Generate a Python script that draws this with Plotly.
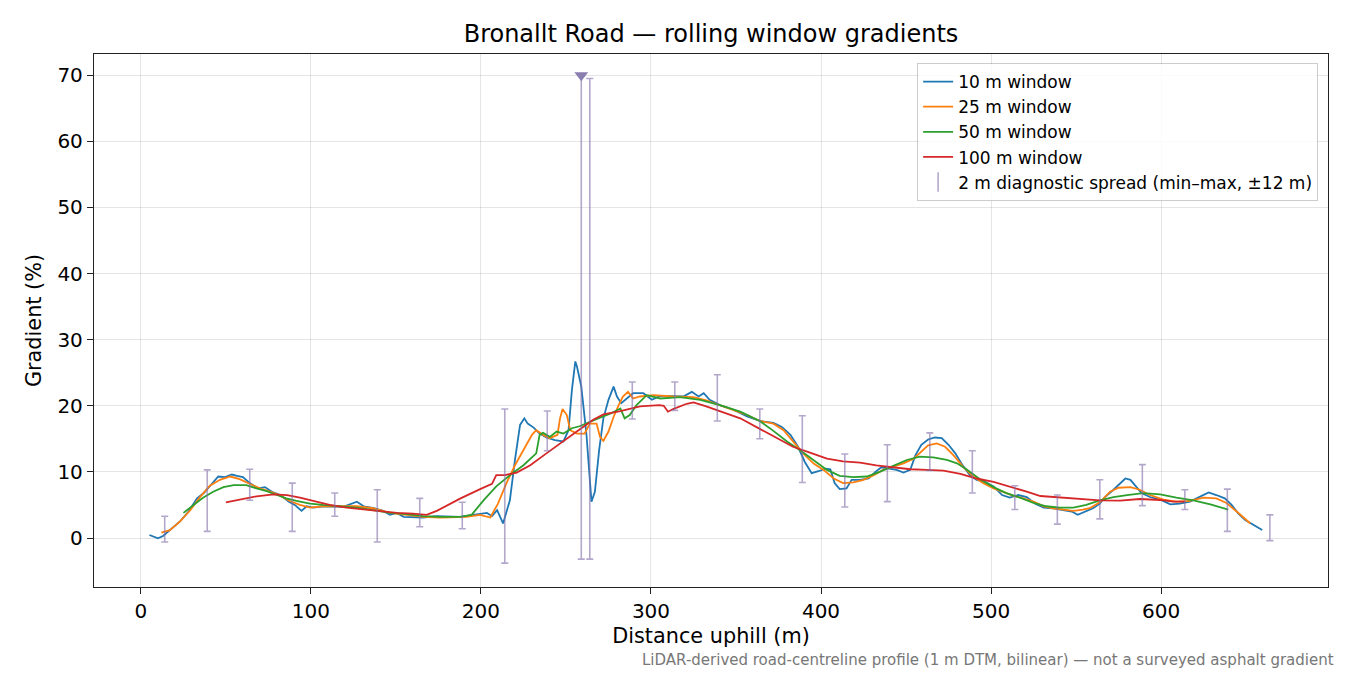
import plotly.graph_objects as go

# --- rolling window gradients ---
x10 = [5, 10, 13, 17, 23, 28, 33, 37, 41, 45.5,
       49.5, 53.5, 56.5, 60, 64, 69, 73, 77, 82, 87,
       90.5, 94.5, 97.5, 101.5, 107, 113, 119, 127, 131, 137,
       142.5, 146.5, 150.5, 154.5, 160, 166, 174, 182, 188, 195.5,
       203.5, 206.5, 209.5, 213, 217, 220, 223, 225.5, 227.5, 231,
       234.5, 238.5, 243.5, 248.5, 251.5, 253.5, 255.5, 256.5, 259, 262,
       264, 265, 267, 269.5, 272, 275, 278, 280, 282.5, 285.5,
       289.5, 295.5, 300.5, 305.5, 313, 319, 324, 328, 331, 334.5,
       340.5, 348.5, 356.5, 364, 372, 377, 382, 386.5, 390.5, 394.5,
       398.5, 402.5, 405.5, 408, 411, 415, 418, 423, 428, 432,
       435.5, 440.5, 444.5, 448.5, 452.5, 455.5, 459, 463, 467, 471,
       475, 479, 482.5, 487.5, 491.5, 496.5, 501.5, 506.5, 511, 516,
       521, 526, 531, 536.5, 542.5, 547.5, 551, 556, 560, 564,
       567, 572, 576, 579, 582, 584.5, 588.5, 593.5, 599.5, 605.5,
       611, 617, 623, 628, 632.5, 637.5, 641.5, 645.5, 649.5, 653.5,
       657.5, 659.5]
g10 = [0.45, -0.05, 0.3, 1.2, 2.5, 4.0, 6.0, 6.8, 8.0, 9.3,
       9.2, 9.6, 9.4, 9.2, 8.3, 7.5, 7.7, 7.0, 6.5, 5.5,
       5.0, 4.1, 4.8, 4.6, 4.8, 4.8, 4.7, 5.5, 4.8, 4.5,
       4.1, 3.5, 3.8, 3.2, 3.2, 3.1, 3.3, 3.2, 3.2, 3.5,
       3.8, 3.3, 4.2, 2.2, 5.7, 11.8, 17.1, 18.1, 17.3, 16.7,
       15.8, 15.2, 14.8, 14.6, 16.3, 22.4, 26.7, 25.9, 22.9, 15.8,
       8.8, 5.5, 7.0, 13.3, 18.1, 20.9, 22.9, 21.4, 20.4, 21.1,
       21.9, 21.9, 20.9, 21.5, 21.5, 21.4, 22.1, 21.4, 21.9, 20.9,
       20.1, 19.4, 18.4, 17.7, 17.4, 16.8, 15.6, 13.8, 11.5, 9.8,
       10.1, 10.5, 10.4, 8.3, 7.4, 7.5, 8.8, 8.8, 9.0, 10.0,
       10.7, 10.5, 10.3, 9.9, 10.3, 12.5, 14.1, 14.9, 15.2, 15.1,
       14.1, 12.8, 11.3, 9.5, 8.8, 8.5, 7.8, 6.5, 6.1, 6.5,
       6.2, 5.2, 4.6, 4.5, 4.2, 4.0, 3.5, 4.0, 4.5, 5.2,
       6.2, 7.3, 8.3, 9.0, 8.8, 8.0, 6.8, 6.2, 5.8, 5.1,
       5.2, 5.5, 6.2, 6.9, 6.5, 6.0, 5.0, 3.7, 2.7, 2.1,
       1.6, 1.2]

x25 = [12, 17, 23, 29, 34.5, 40.5, 46.5, 52.5, 58, 64,
       70, 76, 82, 87.5, 93.5, 99.5, 107, 117, 127, 136.5,
       146.5, 156.5, 166, 176, 186, 191.5, 199.5, 205.5, 210, 215,
       220, 226, 230, 232.5, 236.5, 240.5, 245, 246.5, 248, 250.5,
       252.5, 256.5, 261, 264, 268, 270, 272, 275, 278, 281,
       283.5, 286.5, 289.5, 293.5, 301.5, 313, 325, 332.5, 340.5, 348.5,
       356.5, 364, 372, 378, 383.5, 389.5, 395.5, 401.5, 407.5, 413,
       419, 425, 431, 436.5, 442.5, 448.5, 454.5, 459, 463, 468,
       473, 478, 483.5, 489.5, 495.5, 501.5, 507.5, 513, 519, 525,
       531, 536.5, 542.5, 548.5, 554, 558, 564, 570, 575, 582,
       587.5, 593.5, 601.5, 609, 617, 625, 632.5, 638.5, 644.5, 652.5]
g25 = [0.8, 1.2, 2.5, 4.2, 6.1, 7.9, 8.8, 9.3, 8.9, 8.2,
       7.5, 7.0, 6.4, 5.6, 5.0, 4.6, 4.8, 4.8, 4.8, 4.5,
       3.8, 3.5, 3.2, 3.1, 3.1, 3.2, 3.5, 3.1, 5.2, 8.3,
       11.0, 13.8, 15.6, 16.3, 15.6, 15.1, 15.6, 18.1, 19.5, 18.6,
       16.3, 15.8, 15.8, 17.3, 17.3, 15.3, 14.7, 16.1, 18.3, 20.1,
       21.4, 22.1, 21.1, 21.4, 21.6, 21.4, 21.3, 20.8, 20.1, 19.4,
       18.6, 17.7, 17.3, 16.3, 14.6, 12.8, 11.3, 10.3, 9.0, 8.3,
       8.4, 8.8, 9.5, 10.3, 10.8, 11.3, 12.0, 13.0, 14.0, 14.3,
       13.8, 12.5, 10.8, 9.3, 8.3, 7.5, 6.9, 6.4, 6.0, 5.5,
       4.8, 4.5, 4.3, 4.1, 4.3, 4.5, 5.4, 7.0, 7.6, 7.7,
       7.3, 6.5, 5.8, 5.5, 5.6, 6.1, 6.0, 5.3, 4.0, 2.2]

x50 = [25, 31, 36.5, 42.5, 48.5, 54.5, 62, 68, 74, 80,
       85.5, 91.5, 99.5, 107, 117, 127, 136.5, 146.5, 156.5, 166,
       176, 187.5, 194.5, 201.5, 209, 217, 225, 232.5, 234.5, 236.5,
       240.5, 244.5, 248.5, 253.5, 258, 264, 270, 276, 282, 284.5,
       287.5, 291.5, 297.5, 305.5, 317, 329, 340.5, 352.5, 364, 372,
       380, 387.5, 395.5, 403.5, 411, 419, 427, 434.5, 442.5, 450.5,
       458, 466, 474, 480, 485.5, 493.5, 501.5, 509, 517, 525,
       532.5, 540.5, 548.5, 556, 564, 572, 580, 589.5, 599.5, 609,
       619, 629, 639.5]
g50 = [3.8, 5.0, 6.1, 7.0, 7.7, 8.0, 8.0, 7.5, 7.1, 6.5,
       6.0, 5.6, 5.2, 5.0, 4.8, 4.6, 4.2, 3.8, 3.6, 3.3,
       3.2, 3.2, 3.5, 5.7, 7.8, 9.5, 11.0, 12.8, 15.6, 15.9,
       15.3, 16.1, 15.8, 16.6, 16.9, 17.6, 18.2, 18.8, 19.6, 18.1,
       18.6, 20.1, 21.6, 21.1, 21.3, 20.9, 20.1, 19.1, 17.7, 16.2,
       14.6, 13.3, 11.8, 10.3, 9.4, 9.2, 9.3, 10.0, 10.9, 11.8,
       12.3, 12.2, 11.8, 11.3, 10.4, 8.9, 7.7, 6.8, 6.1, 5.3,
       4.8, 4.6, 4.6, 5.0, 5.7, 6.2, 6.5, 6.8, 6.6, 6.1,
       5.7, 5.1, 4.3]

x100 = [50, 58, 68, 78, 86, 93.5, 101.5, 111, 121, 131,
        140.5, 150.5, 160, 168, 174, 182, 188, 199.5, 206.5, 209,
        214, 221, 229, 238.5, 248.5, 258, 266, 272, 282, 293.5,
        305, 307.5, 310, 313, 321, 325, 332.5, 340.5, 352.5, 364,
        374, 383.5, 393.5, 403.5, 413, 423, 432.5, 442.5, 452.5, 462,
        472, 482, 491.5, 501.5, 511, 521, 529, 540.5, 552.5, 564,
        576, 587.5, 599.5, 607, 614]
g100 = [5.4, 5.8, 6.3, 6.6, 6.5, 6.1, 5.6, 5.0, 4.6, 4.3,
        4.0, 3.8, 3.7, 3.5, 4.1, 5.2, 6.0, 7.4, 8.2, 9.5,
        9.5, 9.9, 11.0, 12.8, 14.6, 16.4, 17.9, 18.7, 19.2, 19.9,
        20.1, 20.0, 19.1, 19.5, 20.3, 20.5, 19.9, 19.2, 18.1, 16.5,
        15.1, 13.8, 12.9, 12.0, 11.6, 11.4, 11.0, 10.7, 10.4, 10.3,
        10.2, 9.7, 9.0, 8.5, 7.8, 7.0, 6.35, 6.1, 5.9, 5.7,
        5.65, 5.9, 5.75, 5.5, 5.5]

# 2 m diagnostic spread (min-max within +-12 m)
spread_x = [14, 39, 64, 89, 114, 139, 164, 189, 214, 239, 259, 264, 289, 314,
            339, 364, 389, 414, 439, 464, 489, 514, 539, 564, 589, 614, 639, 664]
spread_min = [-0.6, 1.0, 5.7, 1.0, 3.3, -0.6, 1.7, 1.4, -3.8, 13.2, -3.2, -3.2, 18.0, 19.3,
              17.7, 15.0, 8.4, 4.7, 5.5, 10.2, 6.8, 4.3, 2.1, 2.9, 4.9, 4.3, 1.0, -0.4]
spread_max = [3.3, 10.3, 10.4, 8.3, 6.8, 7.3, 6.0, 5.4, 19.5, 19.2, 70, 69.5, 23.6, 23.6,
              24.7, 19.5, 18.5, 12.7, 14.1, 15.9, 13.2, 7.9, 6.5, 8.8, 11.1, 7.3, 7.4, 3.5]
clip_top = 70

series = [
    ("10 m window", x10, g10, "#1f77b4"),
    ("25 m window", x25, g25, "#ff7f0e"),
    ("50 m window", x50, g50, "#2ca02c"),
    ("100 m window", x100, g100, "#d62728"),
]

FONT = "DejaVu Sans"
spread_col = "rgba(128,110,170,0.6)"

fig = go.Figure()

for name, xs, ys, col in series:
    fig.add_trace(go.Scatter(
        x=xs, y=ys, mode="lines", name=name,
        line=dict(color=col, width=1.8)
    ))

#spread error bars, centred between min and max
mid = [(a + b) / 2 for a, b in zip(spread_min, spread_max)]
half = [(b - a) / 2 for a, b in zip(spread_min, spread_max)]
fig.add_trace(go.Scatter(
    x=spread_x, y=mid, mode="markers", showlegend=False,
    marker=dict(color="rgba(0,0,0,0)", size=1),
    error_y=dict(type="data", array=half, symmetric=True,
                 color=spread_col, thickness=1.6, width=3.5),
    hoverinfo="skip"
))

#off-scale markers
off_x = [x for x, m in zip(spread_x, spread_max) if m >= clip_top]
fig.add_trace(go.Scatter(
    x=off_x, y=[clip_top] * len(off_x), mode="markers", showlegend=False,
    marker=dict(symbol="triangle-down", size=12, color="#8a7db0")
))

#legend entry for the spread
fig.add_trace(go.Scatter(
    x=[None], y=[None], mode="markers",
    name="2 m diagnostic spread (min–max, ±12 m)",
    marker=dict(symbol="line-ns-open", size=14, color=spread_col,
                line=dict(color=spread_col, width=1.6))
))

axis_common = dict(
    showline=True, mirror=True, linecolor="#222222", linewidth=1.3,
    ticks="outside", ticklen=6, tickcolor="#222222", tickwidth=1.3,
    showgrid=True, gridcolor="rgba(0,0,0,0.1)", gridwidth=1,
    zeroline=False, tickfont=dict(family=FONT, size=20, color="black"),
)

# the page body adds an 8 px offset, so the figure is 8 px smaller
fig.update_layout(
    width=1342, height=667,
    paper_bgcolor="white", plot_bgcolor="white",
    margin=dict(l=86, r=22, t=46, b=88),
    font=dict(family=FONT, color="black"),
    title=dict(text="Bronallt Road — rolling window gradients",
               x=0.5, xref="paper", xanchor="center",
               y=1 - 26 / 667, yref="container", yanchor="middle",
               font=dict(family=FONT, size=24, color="black")),
    xaxis=dict(axis_common, range=[-27.6, 698.2], tickvals=[0, 100, 200, 300, 400, 500, 600],
               title=dict(text="Distance uphill (m)", font=dict(family=FONT, size=20.8), standoff=6)),
    yaxis=dict(axis_common, range=[-7.41, 73.2], tickvals=[0, 10, 20, 30, 40, 50, 60, 70],
               title=dict(text="Gradient (%)", font=dict(family=FONT, size=20.8), standoff=10)),
    legend=dict(x=0.992, y=0.983, xanchor="right", yanchor="top",
                bgcolor="rgba(255,255,255,0.85)", bordercolor="rgba(0,0,0,0.2)",
                borderwidth=1, font=dict(family=FONT, size=17, color="black")),
    showlegend=True,
)

fig.add_annotation(
    text="LiDAR-derived road-centreline profile (1 m DTM, bilinear) — not a surveyed asphalt gradient",
    xref="paper", yref="paper", x=1.0065, y=-0.137,
    xanchor="right", yanchor="middle", showarrow=False,
    font=dict(family=FONT, size=15, color="#777777")
)

fig.write_html("out.html")
